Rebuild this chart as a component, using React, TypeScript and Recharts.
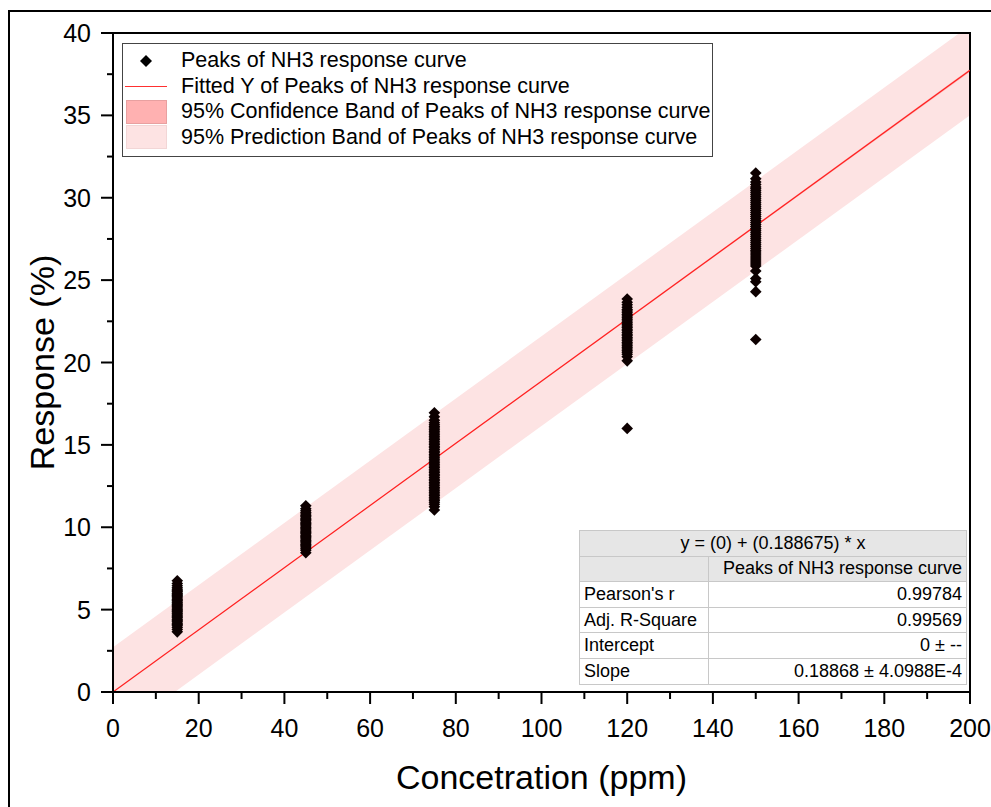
import { ComposedChart, Scatter, Line, Area, XAxis, YAxis, ReferenceArea } from 'recharts';

const FONT = '"Liberation Sans", Arial, Helvetica, sans-serif';

// measured peak responses (%) at each NH3 concentration (ppm)
const peaks15 = [3.65, 3.8, 3.92, 4.02, 4.1, 4.18, 4.27, 4.35, 4.42, 4.5, 4.57, 4.66, 4.73, 4.8, 4.88, 4.96, 5.03, 5.1, 5.17, 5.26, 5.33, 5.4, 5.47, 5.55, 5.62, 5.7, 5.78, 5.85, 5.93, 6.0, 6.08, 6.15, 6.24, 6.33, 6.45, 6.58, 6.75];
const peaks45 = [8.45, 8.6, 8.7, 8.8, 8.88, 8.96, 9.04, 9.12, 9.2, 9.28, 9.36, 9.44, 9.52, 9.6, 9.68, 9.75, 9.83, 9.91, 9.99, 10.07, 10.15, 10.23, 10.31, 10.39, 10.47, 10.55, 10.63, 10.71, 10.8, 10.9, 11.0, 11.12, 11.3];
const peaks75 = [11.05, 11.25, 11.4, 11.52, 11.62, 11.72, 11.82, 11.92, 12.02, 12.12, 12.22, 12.32, 12.42, 12.52, 12.62, 12.72, 12.82, 12.92, 13.02, 13.12, 13.22, 13.32, 13.42, 13.52, 13.62, 13.72, 13.82, 13.92, 14.02, 14.12, 14.22, 14.32, 14.42, 14.52, 14.62, 14.72, 14.82, 14.92, 15.02, 15.12, 15.22, 15.32, 15.42, 15.52, 15.62, 15.72, 15.82, 15.92, 16.02, 16.12, 16.22, 16.35, 16.5, 16.7, 16.95];
const peaks120 = [16.0, 20.1, 20.35, 20.5, 20.62, 20.72, 20.82, 20.92, 21.02, 21.12, 21.22, 21.32, 21.42, 21.52, 21.62, 21.72, 21.82, 21.92, 22.02, 22.12, 22.22, 22.32, 22.42, 22.52, 22.62, 22.72, 22.82, 22.92, 23.02, 23.12, 23.22, 23.35, 23.5, 23.65, 23.85];
const peaks150 = [21.4, 24.3, 24.9, 25.1, 25.55, 25.85, 25.98, 26.1, 26.22, 26.34, 26.46, 26.58, 26.7, 26.82, 26.94, 27.06, 27.18, 27.3, 27.42, 27.54, 27.66, 27.78, 27.9, 28.02, 28.14, 28.26, 28.38, 28.5, 28.62, 28.74, 28.86, 28.98, 29.1, 29.22, 29.34, 29.46, 29.58, 29.7, 29.82, 29.94, 30.06, 30.18, 30.3, 30.42, 30.54, 30.66, 30.8, 30.95, 31.15, 31.5];

const concentrations = [15, 45, 75, 120, 150];
const peakSets = [peaks15, peaks45, peaks75, peaks120, peaks150];

// linear fit y = 0.188675 * x and its bands, at the ends of the x range
const fitX = [0, 200];
const fitY = [0, 37.735];
const confLow = [0, 37.65];
const confHigh = [0, 37.82];
const predLow = [-2.72, 35.01];
const predHigh = [2.72, 40.46];

const xTicks = [0, 10, 20, 30, 40, 50, 60, 70, 80, 90, 100, 110, 120, 130, 140, 150, 160, 170, 180, 190, 200];
const yTicks = [0, 2.5, 5, 7.5, 10, 12.5, 15, 17.5, 20, 22.5, 25, 27.5, 30, 32.5, 35, 37.5, 40];

const tableRows = [
  ["Pearson's r", '0.99784'],
  ['Adj. R-Square', '0.99569'],
  ['Intercept', '0 ± --'],
  ['Slope', '0.18868 ± 4.0988E-4'],
];

const scatterData = concentrations.flatMap((c, i) => peakSets[i].map((v) => ({ x: c, y: v })));
const fitData = fitX.map((x, i) => ({ x, y: fitY[i] }));
const confData = fitX.map((x, i) => ({ x, band: [confLow[i], confHigh[i]] }));
const predData = fitX.map((x, i) => ({ x, band: [predLow[i], predHigh[i]] }));

function Diamond(props: any) {
  const { cx, cy } = props;
  const r = 5.8;
  return <polygon points={`${cx},${cy - r} ${cx + r},${cy} ${cx},${cy + r} ${cx - r},${cy}`} fill="#0d0000" />;
}

function XTick({ x, y, payload }: any) {
  const major = payload.value % 20 === 0;
  return (
    <g>
      <line x1={x} x2={x} y1={y} y2={y + (major ? 12 : 7)} stroke="#000" strokeWidth={2} />
      {major && (
        <text x={x} y={y + 45} textAnchor="middle" fontSize={25} fontFamily={FONT} fill="#000">
          {payload.value}
        </text>
      )}
    </g>
  );
}

function YTick({ x, y, payload }: any) {
  const major = payload.value % 5 === 0;
  return (
    <g>
      <line x1={x - (major ? 12 : 6)} x2={x} y1={y} y2={y} stroke="#000" strokeWidth={2} />
      {major && (
        <text x={x - 22} y={y + 9} textAnchor="end" fontSize={25} fontFamily={FONT} fill="#000">
          {payload.value}
        </text>
      )}
    </g>
  );
}

function Legend() {
  const row = { display: 'flex', alignItems: 'center', height: 25.5 } as const;
  const sym = { width: 42, marginLeft: 2, marginRight: 14, display: 'flex', justifyContent: 'center', alignItems: 'center' } as const;
  return (
    <div
      style={{
        position: 'absolute', left: 122, top: 43, width: 591, height: 114, border: '1px solid #444',
        background: '#fff', fontFamily: FONT, fontSize: 21.5, color: '#000', padding: '4px 0 0 0', boxSizing: 'border-box',
      }}
    >
      <div style={row}>
        <div style={sym}>
          <svg width={12} height={12}><polygon points="6,0 12,6 6,12 0,6" fill="#000" /></svg>
        </div>
        Peaks of NH3 response curve
      </div>
      <div style={row}>
        <div style={sym}><div style={{ width: 42, height: 1, background: '#ff3030' }} /></div>
        Fitted Y of Peaks of NH3 response curve
      </div>
      <div style={row}>
        <div style={sym}><div style={{ width: 41, height: 24, background: '#ffb1b1', border: '1px solid #e8a0a0', boxSizing: 'border-box' }} /></div>
        95% Confidence Band of Peaks of NH3 response curve
      </div>
      <div style={row}>
        <div style={sym}><div style={{ width: 41, height: 24, background: '#fde3e3', border: '1px solid #f2d6d6', boxSizing: 'border-box' }} /></div>
        95% Prediction Band of Peaks of NH3 response curve
      </div>
    </div>
  );
}

function FitTable() {
  const cell = { border: '1px solid #c8c8c8', padding: '0 4px', height: 24.6, whiteSpace: 'nowrap' } as const;
  return (
    <table
      style={{
        position: 'absolute', left: 579, top: 530, width: 388, borderCollapse: 'collapse',
        fontFamily: FONT, fontSize: 18, color: '#000', background: '#fff', border: '1px solid #777',
      }}
    >
      <tbody>
        <tr>
          <td colSpan={2} style={{ ...cell, background: '#e6e6e6', textAlign: 'center' }}>y = (0) + (0.188675) * x</td>
        </tr>
        <tr>
          <td style={{ ...cell, width: 120, background: '#e6e6e6' }}></td>
          <td style={{ ...cell, background: '#e6e6e6', textAlign: 'right' }}>Peaks of NH3 response curve</td>
        </tr>
        {tableRows.map(([k, v]) => (
          <tr key={k}>
            <td style={cell}>{k}</td>
            <td style={{ ...cell, textAlign: 'right' }}>{v}</td>
          </tr>
        ))}
      </tbody>
    </table>
  );
}

export default function App() {
  return (
    <div style={{ position: 'absolute', left: 0, top: 0, width: 991, height: 807, overflow: 'hidden', background: '#fff' }}>
      <div style={{ position: 'absolute', left: 8, top: 10, width: 1000, height: 820, border: '2px solid #000', boxSizing: 'border-box' }} />
      <ComposedChart width={991} height={807} margin={{ top: 33, right: 21, bottom: 0, left: 0 }} style={{ position: 'absolute', left: 0, top: 0 }}>
        <XAxis
          type="number"
          dataKey="x"
          domain={[0, 200]}
          ticks={xTicks}
          interval={0}
          allowDataOverflow
          height={115}
          tickSize={0}
          tickMargin={0}
          tick={<XTick />}
          axisLine={{ stroke: '#000', strokeWidth: 2 }}
          label={{
            content: ({ viewBox }: any) => (
              <text x={viewBox.x + viewBox.width / 2} y={viewBox.y + 97} textAnchor="middle" fontSize={34} fontFamily={FONT} fill="#000">
                Concetration (ppm)
              </text>
            ),
          }}
        />
        <YAxis
          type="number"
          dataKey="y"
          domain={[0, 40]}
          ticks={yTicks}
          interval={0}
          allowDataOverflow
          width={113}
          tickSize={0}
          tickMargin={0}
          tick={<YTick />}
          axisLine={{ stroke: '#000', strokeWidth: 2 }}
          label={{
            content: ({ viewBox }: any) => {
              const cx = 42;
              const cy = viewBox.y + viewBox.height / 2;
              return (
                <text x={cx} y={cy} transform={`rotate(-90 ${cx} ${cy})`} textAnchor="middle" dominantBaseline="central" fontSize={34} fontFamily={FONT} fill="#000">
                  Response (%)
                </text>
              );
            },
          }}
        />
        <Area data={predData} dataKey="band" type="linear" stroke="none" fill="#fde3e3" fillOpacity={1} isAnimationActive={false} />
        <Area data={confData} dataKey="band" type="linear" stroke="none" fill="#ffb1b1" fillOpacity={1} isAnimationActive={false} />
        <Scatter data={scatterData} dataKey="y" shape={<Diamond />} isAnimationActive={false} />
        <Line data={fitData} dataKey="y" type="linear" stroke="#ff2020" strokeWidth={1.2} dot={false} activeDot={false} isAnimationActive={false} />
        <ReferenceArea x1={0} x2={200} y1={0} y2={40} fill="none" stroke="#000" strokeWidth={2} />
      </ComposedChart>
      <Legend />
      <FitTable />
    </div>
  );
}
